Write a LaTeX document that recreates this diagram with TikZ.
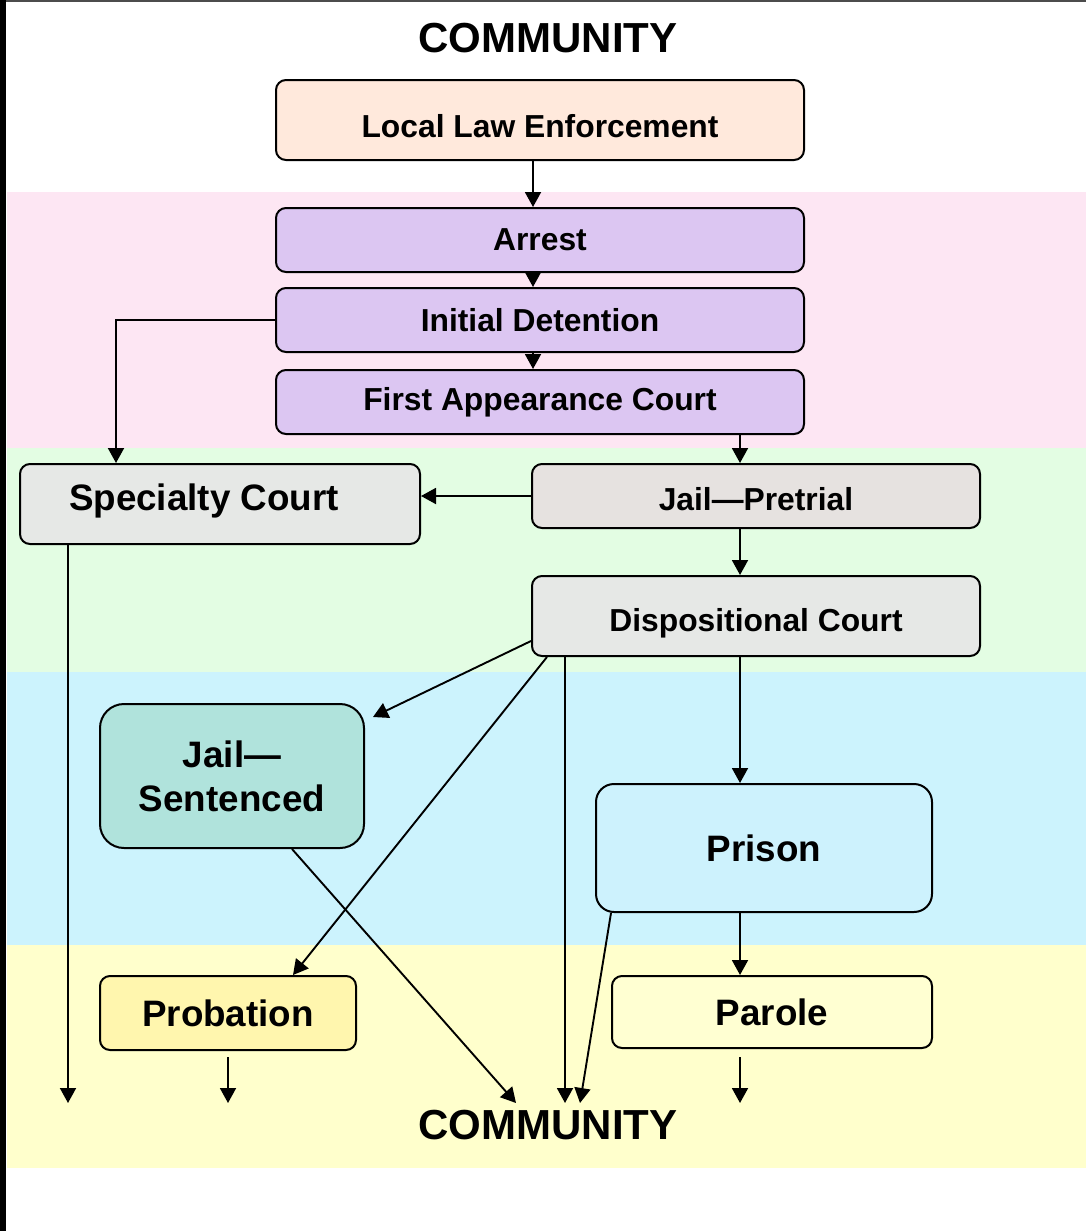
\documentclass[tikz,border=0pt]{standalone}
\usepackage{fontspec}
\setmainfont{Liberation Sans}
\usetikzlibrary{arrows.meta}
\definecolor{bandpink}{HTML}{FDE6F3}
\definecolor{bandgreen}{HTML}{E3FDE3}
\definecolor{bandblue}{HTML}{CCF3FD}
\definecolor{bandyellow}{HTML}{FFFFCC}
\definecolor{lawfill}{HTML}{FFE9DC}
\definecolor{arrestfill}{HTML}{DCC6F2}
\definecolor{courtfill}{HTML}{E6E8E6}
\definecolor{pretrialfill}{HTML}{E6E2E0}
\definecolor{sentencedfill}{HTML}{B0E3DC}
\definecolor{prisonfill}{HTML}{CDF2FD}
\definecolor{probationfill}{HTML}{FFF6AE}
\definecolor{parolefill}{HTML}{FFFFD2}
\tikzset{
  stage/.style={draw, line width=1pt, rounded corners=5pt, inner sep=0pt,
    font=\fontsize{15.9}{19}\selectfont\bfseries},
  bigstage/.style={stage, font=\fontsize{18.4}{22}\selectfont\bfseries},
  bw/.style={minimum width=#1*0.5pt},
  bh/.style={minimum height=#1*0.5pt},
  arr/.style={line width=0.95pt, -{Triangle[length=7.5pt,width=8pt]}},
}
\begin{document}
\begin{tikzpicture}[x=0.5pt,y=-0.5pt]
  \useasboundingbox (0,0) rectangle (1086,1231);
  % bands
  \fill[bandpink] (7,192) rectangle (1086,448);
  \fill[bandgreen] (7,448) rectangle (1086,672);
  \fill[bandblue] (7,672) rectangle (1086,945);
  \fill[bandyellow] (7,945) rectangle (1086,1168);
  \draw[black!70, line width=0.8pt] (0,1) -- (1086,1);
  \draw[line width=3pt] (3,0) -- (3,1231);
  % stages
  \node[font=\fontsize{21}{25}\selectfont\bfseries] (commtop) at (548,38) {COMMUNITY};
  \node[stage, fill=lawfill, bw=528, bh=80, text height=17.4pt, text depth=0pt] (lle) at (540,120) {Local Law Enforcement};
  \node[stage, fill=arrestfill, bw=528, bh=64] (arrest) at (540,240) {Arrest};
  \node[stage, fill=arrestfill, bw=528, bh=64] (detention) at (540,320) {Initial Detention};
  \node[stage, fill=arrestfill, bw=528, bh=64] (firstapp) at (540,402) {First Appearance Court};
  \node[bigstage, fill=courtfill, bw=400, bh=80, text height=13.4pt, text depth=7.2pt] (specialty) at (220,504) {Specialty Court\kern16pt};
  \node[stage, fill=pretrialfill, bw=448, bh=64, text height=14.4pt, text depth=0pt] (pretrial) at (756,496) {Jail---Pretrial};
  \node[stage, fill=courtfill, bw=448, bh=80, text height=15.4pt, text depth=0pt] (dispo) at (756,616) {Dispositional Court};
  \node[bigstage, fill=sentencedfill, bw=264, bh=144, rounded corners=12pt, align=center] (sentenced) at (232,776) {Jail---\\Sentenced};
  \node[bigstage, fill=prisonfill, bw=336, bh=128, rounded corners=9pt] (prison) at (764,848) {Prison};
  \node[bigstage, fill=probationfill, bw=256, bh=74] (probation) at (228,1013) {Probation};
  \node[bigstage, fill=parolefill, bw=320, bh=72] (parole) at (772,1012) {Parole};
  \node[font=\fontsize{21}{25}\selectfont\bfseries] (commbot) at (548,1125) {COMMUNITY};
  % exits to community
  \coordinate (exit-sc) at (68,1103);
  \coordinate (exit-pb) at (228,1103);
  \coordinate (exit-js) at (516,1103);
  \coordinate (exit-dc) at (565,1103);
  \coordinate (exit-pr) at (580,1103);
  \coordinate (exit-pa) at (740,1103);
  % flow
  \draw[arr] ([xshift=-3.5pt]lle.south) -- ([xshift=-3.5pt]arrest.north);
  \draw[arr] ([xshift=-3.5pt]arrest.south) -- ([xshift=-3.5pt]detention.north);
  \draw[arr] ([xshift=-3.5pt]detention.south) -- ([xshift=-3.5pt]firstapp.north);
  \draw[arr] (detention.west) -| ([xshift=-52pt]specialty.north);
  \draw[arr] ([xshift=100pt]firstapp.south) -- ([xshift=-8pt]pretrial.north);
  \draw[arr] (pretrial.west) -- (pretrial.west -| specialty.east);
  \draw[arr] ([xshift=-8pt]pretrial.south) -- ([xshift=-8pt]dispo.north);
  \draw[arr] (specialty.south -| exit-sc) -- (exit-sc);
  \draw[arr] ([yshift=-12.5pt]dispo.west) -- ([xshift=4pt,yshift=-7pt]sentenced.north east);
  \draw[arr] ([xshift=8pt]dispo.south west) -- ([xshift=32.5pt]probation.north);
  \draw[arr] (dispo.south -| exit-dc) -- (exit-dc);
  \draw[arr] ([xshift=-8pt]dispo.south) -- ([xshift=-8pt]dispo.south |- prison.north);
  \draw[arr] ([xshift=30pt]sentenced.south) -- (exit-js);
  \draw[arr] ([xshift=8pt]prison.south west) -- (exit-pr);
  \draw[arr] ([xshift=-12pt]prison.south) -- ([xshift=-12pt]prison.south |- parole.north);
  \draw[arr] ([yshift=-3pt]probation.south) -- (exit-pb);
  \draw[arr] ([xshift=-16pt,yshift=-4pt]parole.south) -- (exit-pa);
\end{tikzpicture}
\end{document}
